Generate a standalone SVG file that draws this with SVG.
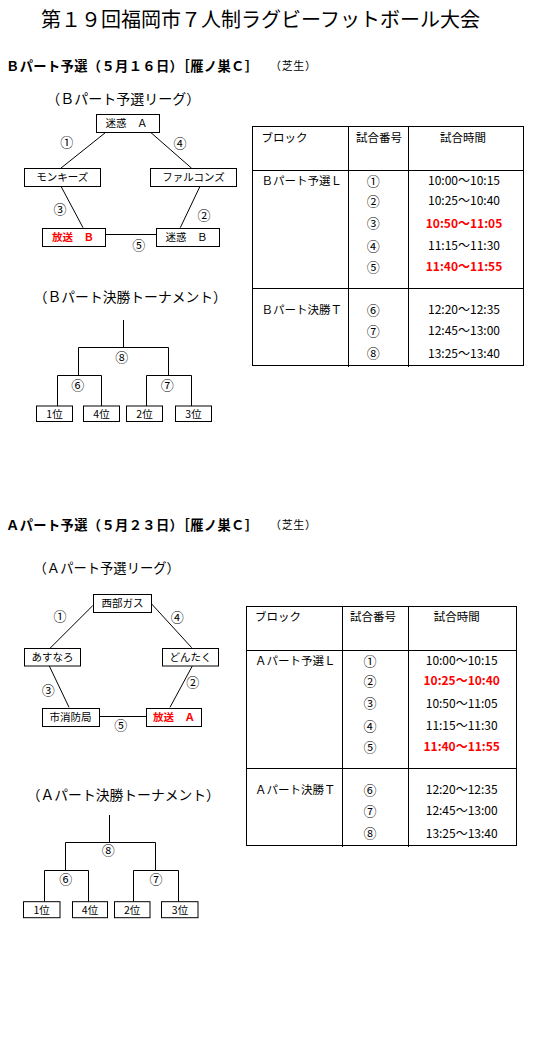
<svg xmlns="http://www.w3.org/2000/svg" width="540" height="1050" viewBox="0 0 540 1050">
<style>
text{font-family:"Noto Sans CJK JP","Noto Sans CJK SC",sans-serif;fill:#000}
.title{font-size:20px}
.hd{font-size:13.3px;font-weight:bold}
.sm{font-size:11px}
.sub{font-size:13.5px;text-anchor:middle}
.bx{font-size:10.5px;text-anchor:middle}
.num{font-size:13px;text-anchor:middle}
.tb{font-size:11.5px}
.tm{font-size:12px;text-anchor:middle}
.red{fill:#ff0000;font-weight:bold}
rect{fill:#fff;stroke:#000;stroke-width:1}
line,.ln{stroke:#000;stroke-width:1;fill:none}
</style>
<rect x="0" y="0" width="540" height="1050" style="stroke:none;fill:#fff"/>
<text class="title" x="260.5" y="26.6" text-anchor="middle">第１９回福岡市７人制ラグビーフットボール大会</text>

<!-- B section -->
<g id="b-header">
<text class="hd" x="6" y="70.6" textLength="252" lengthAdjust="spacing">Ｂパート予選（５月１６日）［雁ノ巣Ｃ］</text>
<text class="sm" x="270" y="69.8" textLength="46" lengthAdjust="spacing">（芝生）</text>
<text class="sub" x="123.3" y="104.3" style="font-size:14px">（Ｂパート予選リーグ）</text>
</g>
<g id="b-connectors">
<line x1="105.3" y1="132.7" x2="60.7" y2="168.3"/>
<line x1="151" y1="132.7" x2="191.7" y2="168.3"/>
<line x1="61" y1="186.3" x2="83" y2="227.7"/>
<line x1="200" y1="186.3" x2="180.3" y2="227.7"/>
<line x1="105.3" y1="234.5" x2="156.3" y2="234.5"/>
<text class="num" x="66.7" y="147.3">①</text>
<text class="num" x="180" y="147.6">④</text>
<text class="num" x="60" y="213.9">③</text>
<text class="num" x="204" y="219.6">②</text>
<text class="num" x="138.7" y="249.9">⑤</text>
</g>
<g id="b-meiwaku-a"><rect x="96.5" y="114.5" width="63" height="18"/><text class="bx" x="126.5" y="127.4">迷惑　Ａ</text></g>
<g id="b-monkeys"><rect x="24.5" y="168.5" width="76" height="18"/><text class="bx" x="62.3" y="181.4">モンキーズ</text></g>
<g id="b-falcons"><rect x="150.5" y="168.5" width="86" height="18"/><text class="bx" x="193.5" y="181.4">ファルコンズ</text></g>
<g id="b-housou-b"><rect x="42.5" y="228.5" width="63" height="18"/><text class="bx red" x="73" y="241.4">放送　Ｂ</text></g>
<g id="b-meiwaku-b"><rect x="156.5" y="228.5" width="63" height="18"/><text class="bx" x="186.5" y="241.4">迷惑　Ｂ</text></g>

<g id="b-tournament">
<text class="sub" x="130.3" y="301.8" style="font-size:13.8px">（Ｂパート決勝トーナメント）</text>
<path class="ln" d="M123.5 320V347.5M78.5 375.5V347.5H168.5V375.5M57.5 406V375.5H101.5V406M146.5 406V375.5H191.5V406"/>
<text class="num" x="121.7" y="361.9">⑧</text>
<text class="num" x="77.7" y="389.6">⑥</text>
<text class="num" x="167.3" y="389.6">⑦</text>
</g>
<g id="b-r1"><rect x="36.5" y="406" width="36" height="15.5"/><text class="bx" x="54.5" y="417.7">1位</text></g>
<g id="b-r4"><rect x="83.5" y="406" width="36" height="15.5"/><text class="bx" x="101.5" y="417.7">4位</text></g>
<g id="b-r2"><rect x="126.5" y="406" width="36" height="15.5"/><text class="bx" x="144.5" y="417.7">2位</text></g>
<g id="b-r3"><rect x="175.5" y="406" width="36" height="15.5"/><text class="bx" x="193.5" y="417.7">3位</text></g>

<g id="b-table">
<rect x="252.5" y="126.5" width="271" height="239"/>
<line x1="348.5" y1="126.5" x2="348.5" y2="367"/>
<line x1="408.5" y1="126.5" x2="408.5" y2="367"/>
<line x1="252.5" y1="170.5" x2="523.5" y2="170.5"/>
<line x1="252.5" y1="288.5" x2="523.5" y2="288.5"/>
<text class="tb" x="261.5" y="141.7">ブロック</text>
<text class="tb" x="379" y="141.7" text-anchor="middle">試合番号</text>
<text class="tb" x="463" y="141.7" text-anchor="middle">試合時間</text>
<text class="tb" x="261.5" y="185.4">Ｂパート予選Ｌ</text>
<text class="tb" x="261.5" y="314.4">Ｂパート決勝Ｔ</text>
<text class="num" x="373.3" y="185.9">①</text>
<text class="num" x="373.3" y="205.9">②</text>
<text class="num" x="373.3" y="228.2">③</text>
<text class="num" x="373.3" y="250.9">④</text>
<text class="num" x="373.3" y="271.6">⑤</text>
<text class="num" x="373.3" y="314.9">⑥</text>
<text class="num" x="373.3" y="335.9">⑦</text>
<text class="num" x="373.3" y="358.2">⑧</text>
<text class="tm" x="464" y="185.4">10:00～10:15</text>
<text class="tm" x="464" y="205.4">10:25～10:40</text>
<text class="tm red" x="464" y="227.7">10:50～11:05</text>
<text class="tm" x="464" y="250.4">11:15～11:30</text>
<text class="tm red" x="464" y="271.1">11:40～11:55</text>
<text class="tm" x="464" y="314.4">12:20～12:35</text>
<text class="tm" x="464" y="335.4">12:45～13:00</text>
<text class="tm" x="464" y="357.7">13:25～13:40</text>
</g>

<!-- A section -->
<g id="a-header">
<text class="hd" x="6" y="530" textLength="252" lengthAdjust="spacing">Ａパート予選（５月２３日）［雁ノ巣Ｃ］</text>
<text class="sm" x="270" y="529.2" textLength="46" lengthAdjust="spacing">（芝生）</text>
<text class="sub" x="106.7" y="573.3" style="font-size:13.3px">（Ａパート予選リーグ）</text>
</g>
<g id="a-connectors">
<line x1="92.7" y1="605.7" x2="50" y2="648.3"/>
<line x1="151.7" y1="604" x2="191.7" y2="647.7"/>
<line x1="49.3" y1="666" x2="69" y2="707.3"/>
<line x1="192.3" y1="666" x2="170" y2="707.3"/>
<line x1="99.3" y1="716.5" x2="146.7" y2="716.5"/>
<text class="num" x="60" y="621.3">①</text>
<text class="num" x="177.3" y="621.9">④</text>
<text class="num" x="48.3" y="694.6">③</text>
<text class="num" x="192.7" y="686.9">②</text>
<text class="num" x="120.7" y="730.3">⑤</text>
</g>
<g id="a-seibu-gas"><rect x="93.5" y="594.5" width="58" height="18"/><text class="bx" x="122.5" y="607.4">西部ガス</text></g>
<g id="a-asunaro"><rect x="24.5" y="648.5" width="56" height="17.5"/><text class="bx" x="52.5" y="661.2">あすなろ</text></g>
<g id="a-dontaku"><rect x="162.5" y="648.5" width="56" height="17.5"/><text class="bx" x="190.5" y="661.2">どんたく</text></g>
<g id="a-shoubou"><rect x="42.5" y="708.5" width="57" height="18"/><text class="bx" x="70.5" y="721.4">市消防局</text></g>
<g id="a-housou-a"><rect x="146.5" y="708.5" width="55" height="18"/><text class="bx red" x="174" y="721.4">放送　Ａ</text></g>

<g id="a-tournament">
<text class="sub" x="123.3" y="800.1" style="font-size:13.8px">（Ａパート決勝トーナメント）</text>
<path class="ln" d="M109.5 815V842.5M65.5 870V842.5H155.5V870M44.5 901.7V870.5H88.5V901.7M133.5 901.7V870.5H178.5V901.7"/>
<text class="num" x="108.3" y="855.3">⑧</text>
<text class="num" x="65.7" y="883.9">⑥</text>
<text class="num" x="156" y="883.9">⑦</text>
</g>
<g id="a-r1"><rect x="23.5" y="901.7" width="36.5" height="16"/><text class="bx" x="41.7" y="913.7">1位</text></g>
<g id="a-r4"><rect x="72.5" y="901.7" width="35" height="16"/><text class="bx" x="90" y="913.7">4位</text></g>
<g id="a-r2"><rect x="114.5" y="901.7" width="35.5" height="16"/><text class="bx" x="132.2" y="913.7">2位</text></g>
<g id="a-r3"><rect x="161.5" y="901.7" width="36.5" height="16"/><text class="bx" x="180" y="913.7">3位</text></g>

<g id="a-table">
<rect x="246.5" y="606.5" width="270" height="239"/>
<line x1="342.5" y1="606.5" x2="342.5" y2="847"/>
<line x1="408.5" y1="606.5" x2="408.5" y2="847"/>
<line x1="246.5" y1="650.5" x2="516.5" y2="650.5"/>
<line x1="246.5" y1="768.5" x2="516.5" y2="768.5"/>
<text class="tb" x="255" y="621.1">ブロック</text>
<text class="tb" x="373" y="621.1" text-anchor="middle">試合番号</text>
<text class="tb" x="456.7" y="621.1" text-anchor="middle">試合時間</text>
<text class="tb" x="255" y="665.4">Ａパート予選Ｌ</text>
<text class="tb" x="255" y="794.4">Ａパート決勝Ｔ</text>
<text class="num" x="370" y="665.9">①</text>
<text class="num" x="370" y="685.9">②</text>
<text class="num" x="370" y="708.2">③</text>
<text class="num" x="370" y="730.9">④</text>
<text class="num" x="370" y="751.6">⑤</text>
<text class="num" x="370" y="794.9">⑥</text>
<text class="num" x="370" y="815.9">⑦</text>
<text class="num" x="370" y="838.2">⑧</text>
<text class="tm" x="461.7" y="665.4">10:00～10:15</text>
<text class="tm red" x="461.7" y="685.4">10:25～10:40</text>
<text class="tm" x="461.7" y="707.7">10:50～11:05</text>
<text class="tm" x="461.7" y="730.4">11:15～11:30</text>
<text class="tm red" x="461.7" y="751.1">11:40～11:55</text>
<text class="tm" x="461.7" y="794.4">12:20～12:35</text>
<text class="tm" x="461.7" y="815.4">12:45～13:00</text>
<text class="tm" x="461.7" y="837.7">13:25～13:40</text>
</g>
</svg>
